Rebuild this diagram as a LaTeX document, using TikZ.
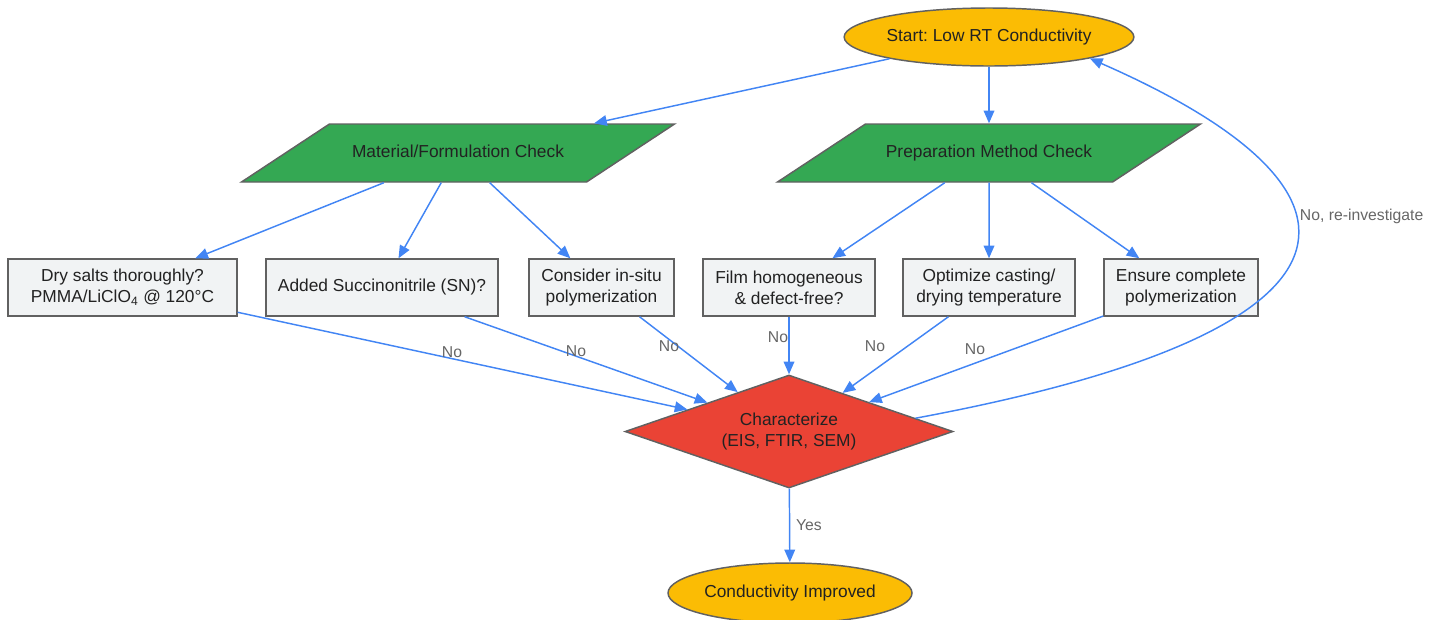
\documentclass[tikz,border=0pt]{standalone}
\usepackage{fontspec}
\setmainfont{Liberation Sans}
\usetikzlibrary{shapes.geometric,arrows.meta}

\definecolor{endyellow}{HTML}{FBBC04}
\definecolor{checkgreen}{HTML}{34A853}
\definecolor{decidered}{HTML}{EA4335}
\definecolor{boxgrey}{HTML}{F1F3F4}
\definecolor{bordergrey}{HTML}{616161}
\definecolor{flowblue}{HTML}{4285F4}
\definecolor{txtdark}{HTML}{222222}
\definecolor{lblgrey}{HTML}{666666}

\frenchspacing

\begin{document}
\begin{tikzpicture}[x=0.75pt,y=-0.75pt,
  every node/.style={text=txtdark,font=\fontsize{13}{15.75}\selectfont},
  endpt/.style={ellipse,draw=bordergrey,line width=1.1pt,fill=endyellow,inner sep=0pt},
  check/.style={trapezium,draw=bordergrey,line width=1.1pt,fill=checkgreen,
    trapezium left angle=33.4,trapezium right angle=146.6,trapezium stretches body,
    text height=9.5pt,text depth=3pt,inner ysep=15.5pt,inner xsep=0pt},
  stepbox/.style={rectangle,draw=bordergrey,line width=1.1pt,fill=boxgrey,
    minimum height=57*0.75pt,align=center,inner sep=0pt},
  decide/.style={diamond,draw=bordergrey,line width=1.1pt,fill=decidered,align=center,
    shape aspect=2.9,minimum width=328*0.75pt,minimum height=113*0.75pt,inner sep=0pt},
  flow/.style={draw=flowblue,line width=1.1pt,-{Triangle[length=9.5pt,width=8pt]}},
  lbl/.style={text=lblgrey,font=\fontsize{11.8}{14}\selectfont}]

  \useasboundingbox (0,0) rectangle (1437,619);

  % start and the two checks
  \node (start) at (989,37) [endpt,minimum width=288*0.75pt,minimum height=58*0.75pt] {Start: Low RT Conductivity};
  \node (matcheck) at (458,153) [check,minimum width=433*0.75pt] {Material/Formulation Check};
  \node (prepcheck) at (989,153) [check,minimum width=423*0.75pt] {Preparation Method Check};
  \draw [flow] (start) -- (matcheck);
  \draw [flow] (start) -- (prepcheck);

  % the six steps
  \node (drysalt) at (122.5,287.5) [stepbox,minimum width=229*0.75pt] {Dry salts thoroughly?\\PMMA/LiClO\textsubscript{4} @ 120°C};
  \node (addsn) at (382,287.5) [stepbox,minimum width=232*0.75pt] {Added Succinonitrile (SN)?};
  \node (insitu) at (601.5,287.5) [stepbox,minimum width=145*0.75pt] {Consider in-situ\\polymerization};
  \node (film) at (789,287.5) [stepbox,minimum width=172*0.75pt] {Film homogeneous\\\& defect-free?};
  \node (casting) at (989,287.5) [stepbox,minimum width=172*0.75pt] {Optimize casting/\\drying temperature};
  \node (polym) at (1181,287.5) [stepbox,minimum width=154*0.75pt] {Ensure complete\\polymerization};

  \foreach \t in {drysalt,addsn,insitu}
  {
    \draw [flow] (matcheck) -- (\t);
  }
  \foreach \t in {film,casting,polym}
  {
    \draw [flow] (prepcheck) -- (\t);
  }

  % characterize
  \node (charac) at (789,431.5) [decide] {Characterize\\(EIS, FTIR, SEM)};
  \foreach \s/\lx/\ly in {drysalt/452/352,addsn/576/351,insitu/669/346,film/778/337,casting/875/346,polym/975/349}
  {
    \draw [flow] (\s) -- (charac);
    \node (no-\s) at (\lx,\ly) [lbl] {No};
  }

  \node (improved) at (790,593) [endpt,minimum width=244*0.75pt,minimum height=60*0.75pt] {Conductivity Improved};
  \draw [flow] (charac) -- (improved) node (yes) [lbl,midway,right=1pt] {Yes};

  \draw [flow] (charac.6) .. controls (1390,330) and (1390,190) .. (start.-12)
    node (reinv) [lbl,pos=0.6,anchor=west] {No, re-investigate};

\end{tikzpicture}
\end{document}
